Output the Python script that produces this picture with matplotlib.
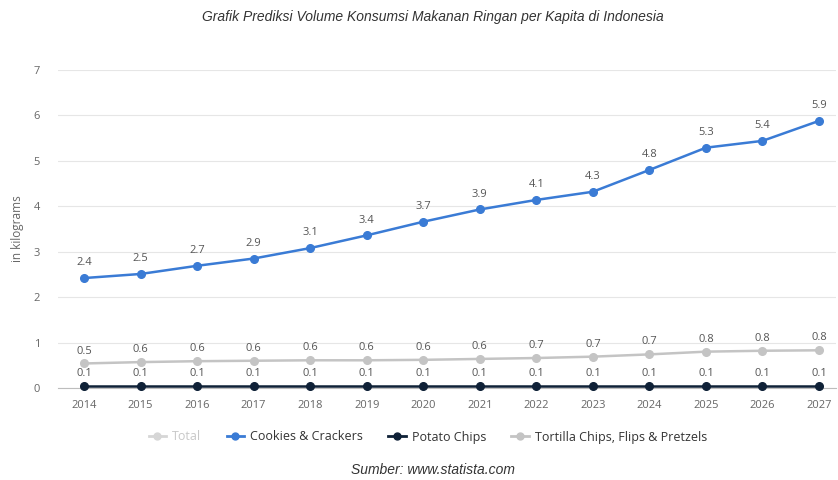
import matplotlib
matplotlib.use("Agg")
import matplotlib.pyplot as plt
from matplotlib.lines import Line2D

years = [2014, 2015, 2016, 2017, 2018, 2019, 2020, 2021, 2022, 2023, 2024, 2025, 2026, 2027]
cookies = [2.42, 2.51, 2.69, 2.85, 3.08, 3.36, 3.66, 3.93, 4.14, 4.32, 4.80, 5.29, 5.44, 5.88]
tortilla = [0.54, 0.57, 0.59, 0.60, 0.61, 0.61, 0.62, 0.64, 0.66, 0.69, 0.74, 0.80, 0.82, 0.83]
potato = [0.05, 0.05, 0.05, 0.05, 0.05, 0.05, 0.05, 0.05, 0.05, 0.05, 0.05, 0.05, 0.05, 0.05]
yticks = [0, 1, 2, 3, 4, 5, 6, 7]

title = "Grafik Prediksi Volume Konsumsi Makanan Ringan per Kapita di Indonesia"
source = "Sumber: www.statista.com"
ylabel = "in kilograms"
legend_labels = ["Total", "Cookies & Crackers", "Potato Chips", "Tortilla Chips, Flips & Pretzels"]

c_cookies = "#3a7bd5"
c_potato = "#0f2137"
c_tortilla = "#c4c4c4"
c_total = "#d6d6d6"
c_text = "#666666"

plt.rcParams['font.family'] = ['Open Sans', 'DejaVu Sans']

fig = plt.figure(figsize=(8.38, 4.8), dpi=100)
ax = fig.add_axes([58/838, 1-388/480, (836-58)/838, (388-70)/480])

ax.plot(years, tortilla, color=c_tortilla, lw=1.8, marker='o', ms=5.5, zorder=3, clip_on=False)
ax.plot(years, potato, color=c_potato, lw=1.8, marker='o', ms=5.5, zorder=4, clip_on=False)
ax.plot(years, cookies, color=c_cookies, lw=1.8, marker='o', ms=5.5, zorder=5, clip_on=False)

for x, v in zip(years, cookies):
    ax.annotate(f"{v:.1f}", (x, v), xytext=(0, 7), textcoords='offset points',
                ha='center', va='bottom', fontsize=8, color='#555555')
for x, v in zip(years, tortilla):
    ax.annotate(f"{v:.1f}", (x, v), xytext=(0, 5), textcoords='offset points',
                ha='center', va='bottom', fontsize=8, color='#555555')
for x, v in zip(years, potato):
    ax.annotate(f"{v:.1f}", (x, v), xytext=(0, 4.5), textcoords='offset points',
                ha='center', va='bottom', fontsize=8, color='#555555')

ax.set_xlim(2013.54, 2027.3)
ax.set_ylim(0, 7)
ax.set_yticks(yticks)
ax.set_yticklabels([str(t) for t in yticks])
ax.set_xticks(years)
ax.set_xticklabels([str(y) for y in years])
ax.tick_params(axis='both', length=0, labelsize=8, colors=c_text)
ax.tick_params(axis='y', pad=13)
ax.tick_params(axis='x', pad=9)
ax.grid(axis='y', color='#e6e6e6', lw=0.8)
ax.set_axisbelow(True)
for s in ['top', 'right', 'left']:
    ax.spines[s].set_visible(False)
ax.spines['bottom'].set_color('#bdbdbd')
ax.spines['bottom'].set_linewidth(0.8)
ax.set_ylabel(ylabel, fontsize=8.5, color=c_text)
ax.yaxis.set_label_coords(-(58-24)/778, 0.5)

handles = [
    Line2D([], [], color=c_total, lw=2, marker='o', ms=5),
    Line2D([], [], color=c_cookies, lw=2, marker='o', ms=5),
    Line2D([], [], color=c_potato, lw=2, marker='o', ms=5),
    Line2D([], [], color=c_tortilla, lw=2, marker='o', ms=5),
]
leg = fig.legend(handles, legend_labels, loc='center', bbox_to_anchor=(428/838, 1-437/480),
                 ncol=4, frameon=False, fontsize=9, handlelength=1.4, handletextpad=0.5,
                 columnspacing=2.0)
for i, t in enumerate(leg.get_texts()):
    t.set_color('#c8c8c8' if i == 0 else '#333333')

fig.text(433/838, 1-17/480, title, ha='center', va='center', fontsize=10,
         style='italic', color='#333333', family=['Liberation Sans', 'DejaVu Sans'])
fig.text(433/838, 1-470/480, source, ha='center', va='center', fontsize=10,
         style='italic', color='#333333', family=['Liberation Sans', 'DejaVu Sans'])

fig.savefig("out.png", dpi=100, facecolor='white')
